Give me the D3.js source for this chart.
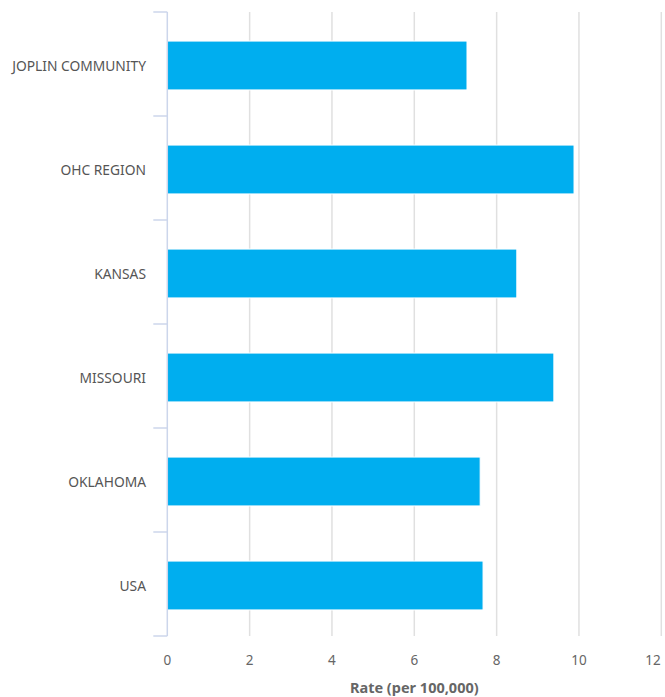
<!DOCTYPE html>
<html><head><meta charset="utf-8">
<script src="https://cdn.jsdelivr.net/npm/d3@7"></script>
<style>body{margin:0;background:#fff;}svg{display:block;font-family:"Noto Sans",sans-serif;}</style>
</head><body>
<script>
const categories = ["JOPLIN COMMUNITY","OHC REGION","KANSAS","MISSOURI","OKLAHOMA","USA"];
const values = [7.28, 9.88, 8.49, 9.39, 7.60, 7.67];
const xTicks = [0,2,4,6,8,10,12];
const xTitle = "Rate (per 100,000)";

const W = 665, H = 697;
const mLeft = 167.3, mRight = 661.3, mTop = 12, mBottom = 636;
const svg = d3.select("body").append("svg").attr("width", W).attr("height", H);

const x = d3.scaleLinear().domain([0, 12]).range([mLeft, mRight]);
const y = d3.scaleBand().domain(categories).range([mTop + 1.5, mBottom + 1.5]).paddingInner(0.53).paddingOuter(0.265);
const yb = d3.scaleBand().domain(categories).range([mTop, mBottom]);

// gridlines
svg.append("g").selectAll("line").data(xTicks.filter(d => d > 0)).join("line")
  .attr("x1", d => x(d)).attr("x2", d => x(d)).attr("y1", mTop).attr("y2", mBottom)
  .attr("stroke", "#e0e0e0").attr("stroke-width", 1.5);

// bars
svg.append("g").selectAll("rect").data(categories).join("rect")
  .attr("x", x(0)).attr("y", d => y(d))
  .attr("width", (d, i) => x(values[i]) - x(0)).attr("height", y.bandwidth())
  .attr("fill", "#00aeef").attr("stroke", "#fff").attr("stroke-width", 1);

// y axis line and ticks
const axisColor = "#ccd6eb";
svg.append("line").attr("x1", mLeft).attr("x2", mLeft).attr("y1", mTop).attr("y2", mBottom)
  .attr("stroke", axisColor).attr("stroke-width", 1.5);
const bounds = categories.map(c => yb(c)).concat([mBottom]);
svg.append("g").selectAll("line").data(bounds).join("line")
  .attr("x1", mLeft - 14).attr("x2", mLeft).attr("y1", d => d).attr("y2", d => d)
  .attr("stroke", axisColor).attr("stroke-width", 1.5);

// category labels
svg.append("g").selectAll("text").data(categories).join("text")
  .attr("x", 146).attr("y", d => yb(d) + yb.bandwidth() / 2 + 2)
  .attr("dy", "0.35em").attr("text-anchor", "end")
  .attr("fill", "#555").style("font-size", "13.8px").text(d => d);

// x tick labels
svg.append("g").selectAll("text").data(xTicks).join("text")
  .attr("x", (d, i) => i === xTicks.length - 1 ? x(d) - 0.5 : x(d))
  .attr("y", 665)
  .attr("text-anchor", (d, i) => i === xTicks.length - 1 ? "end" : "middle")
  .attr("fill", "#666").style("font-size", "13.5px").text(d => d);

// x title
svg.append("text").attr("x", (mLeft + mRight) / 2).attr("y", 693).attr("text-anchor", "middle")
  .attr("fill", "#666").style("font-size", "14.5px").style("font-weight", "bold").text(xTitle);
</script>
</body></html>
